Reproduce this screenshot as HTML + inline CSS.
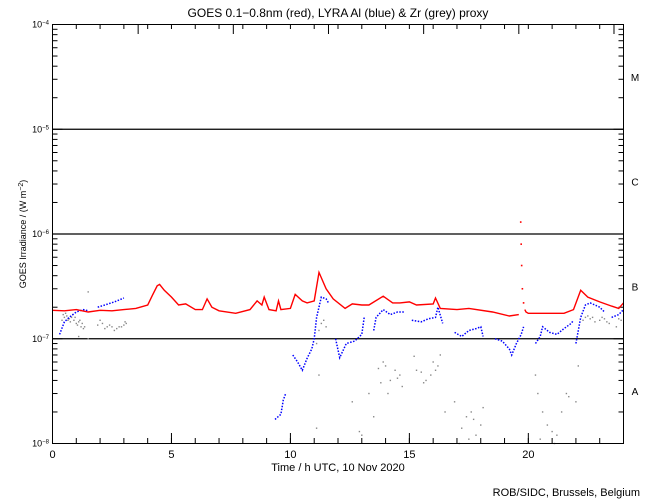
<!DOCTYPE html>
<html><head><meta charset="utf-8"><style>
body{margin:0;background:#fff}
svg{display:block;font-family:"Liberation Sans",sans-serif}
</style></head><body>
<svg id="c" width="650" height="500" xmlns="http://www.w3.org/2000/svg">
<rect width="650" height="500" fill="#fff"/>
<text x="338" y="17" font-size="12" text-anchor="middle">GOES 0.1−0.8nm (red), LYRA Al (blue) &amp; Zr (grey) proxy</text>
<text transform="translate(26,234) rotate(-90)" font-size="9" text-anchor="middle">GOES Irradiance / (W m<tspan baseline-shift="super" font-size="7">−2</tspan>)</text>
<text x="338" y="471" font-size="11" text-anchor="middle">Time / h UTC, 10 Nov 2020</text>
<text x="640" y="496" font-size="11" text-anchor="end">ROB/SIDC, Brussels, Belgium</text>
<g id="grid"></g><g id="axes"></g><g id="series"></g>
<rect x="52.5" y="24.5" width="571" height="419" fill="none" stroke="#000"/>
</svg>
<script>
const xTicks=[0,5,10,15,20];
const yDecades=[-8,-7,-6,-5,-4];
const classLabels=["A","B","C","M"];
const redHours=[0,0.5,1,1.5,2,2.5,3,3.5,4,4.2,4.4,4.5,4.7,5,5.3,5.6,6,6.3,6.5,6.7,7,7.7,8.3,8.6,8.8,8.9,9.1,9.4,9.5,9.6,10,10.2,10.5,10.7,11,11.2,11.5,11.8,12.3,12.6,13,13.3,13.9,14.3,14.6,15,15.3,16,16.1,16.3,17,17.5,18.5,19.2,19.6,null,19.68,null,19.7,null,19.72,null,19.75,null,19.8,null,19.85,19.9,20,21.5,21.9,22.2,22.5,23,23.5,23.8,24];
const redVals=[1.87,1.85,1.9,1.8,1.87,1.85,1.9,1.95,2.1,2.6,3.2,3.3,2.9,2.5,2.1,2.15,1.9,1.9,2.4,2.0,1.85,1.75,1.9,2.3,2.1,2.5,1.9,1.85,2.3,1.9,1.95,2.65,2.3,2.2,2.3,4.3,3.0,2.4,1.95,2.15,2.1,2.1,2.55,2.2,2.2,2.25,2.1,2.15,2.45,1.95,1.9,1.95,1.8,1.65,1.7,null,13,null,8,null,5,null,3,null,2.2,null,1.9,1.8,1.75,1.75,1.9,2.9,2.5,2.25,2.05,1.95,2.2];
const blueHours=[0.3,0.5,0.7,1,1.3,1.5,null,1.9,2.2,2.6,3,null,9.35,9.6,9.7,9.8,null,10.1,10.3,10.5,10.7,10.9,11,11.1,11.3,11.5,11.6,null,11.9,12.07,12.35,12.7,13,13.1,null,13.5,13.6,13.9,14.2,14.5,14.8,null,15.1,15.5,15.8,16.1,16.2,16.4,null,16.9,17.2,17.5,17.8,18,18.1,null,18.6,18.9,19.2,19.3,19.5,19.7,19.8,null,20.3,20.5,20.6,20.9,21.2,21.5,21.8,21.9,null,22,22.1,22.2,22.4,22.6,23,23.2,null,23.5,23.8,24];
const blueVals=[1.1,1.45,1.6,1.8,1.9,1.85,null,2.0,2.1,2.25,2.45,null,0.17,0.19,0.26,0.3,null,0.7,0.6,0.5,0.65,0.8,1.0,1.6,2.5,2.4,2.2,null,1.0,0.66,0.9,0.95,1.1,1.6,null,1.2,1.6,1.9,1.7,1.8,1.8,null,1.5,1.45,1.55,1.6,2.0,1.4,null,1.15,1.05,1.2,1.25,1.3,1.05,null,1.0,0.95,0.8,0.7,0.9,1.1,1.3,null,0.9,1.05,1.3,1.15,1.1,1.25,1.4,1.5,null,0.9,1.2,1.6,2.1,2.2,2.0,1.8,null,1.6,1.7,1.9];
const greyHours=[0.4,0.5,0.6,0.7,0.8,0.9,1,1.1,1.2,1.3,1.5,1.9,2.1,2.3,2.5,2.7,2.9,3,3.1,1.5,1.1,0.45,0.55,0.65,0.75,0.85,0.95,1.05,1.15,1.25,1.35,2.0,2.2,2.4,2.6,2.8,3.05,11.1,11.2,11.3,11.4,11.5,11.1,11.2,13.5,13.7,13.9,14.0,14.2,14.4,14.6,14.7,13.3,13.0,12.9,15.3,15.5,15.7,15.9,16.1,16.2,16.0,15.2,16.5,16.9,17.2,17.4,17.6,17.8,18.0,17.1,17.5,17.7,18.1,20.3,20.4,20.6,20.8,21.0,21.2,21.4,21.6,20.5,21.1,21.7,22.0,22.1,22.3,22.5,22.7,23.0,23.2,23.4,23.7,23.9,13.8,14.1,14.5,12.6,15.6,16.3,22.4,22.6,22.8,23.1,23.3,23.8];
const greyVals=[1.5,1.6,1.65,1.55,1.6,1.5,1.4,1.45,1.3,1.25,2.8,1.35,1.4,1.3,1.3,1.25,1.3,1.35,1.4,1.0,1.05,1.7,1.75,1.5,1.45,1.7,1.6,1.35,1.5,1.4,1.3,1.5,1.25,1.35,1.2,1.3,1.45,0.9,1.2,1.4,1.5,1.3,0.14,0.45,0.18,0.52,0.6,0.55,0.4,0.5,0.45,0.35,0.3,0.12,0.13,0.5,0.48,0.4,0.45,0.5,0.55,0.6,0.68,0.2,0.25,0.14,0.18,0.2,0.12,0.15,0.1,0.11,0.17,0.22,0.45,0.3,0.2,0.15,0.13,0.12,0.2,0.3,0.11,0.1,0.28,0.25,0.55,1.5,1.65,1.6,1.5,1.55,1.4,1.3,1.5,0.38,0.3,0.42,0.25,0.38,0.7,1.6,1.55,1.45,1.6,1.45,1.55];
const X0=52.5,X1=623.5,Y4=24.5,YD=104.75;
const sx=h=>X0+(X1-X0)*h/24;
const sy=v=>Y4+(-4-Math.log10(v))*YD;
const NS="http://www.w3.org/2000/svg";
function mk(t,a,p){const e=document.createElementNS(NS,t);for(const k in a)e.setAttribute(k,a[k]);p.appendChild(e);return e;}
const grid=document.getElementById('grid'),axes=document.getElementById('axes'),ser=document.getElementById('series');
[-7,-6,-5].forEach(d=>{const l=mk('line',{x1:X0,x2:X1,y1:sy(Math.pow(10,d)),y2:sy(Math.pow(10,d)),stroke:'#000','stroke-width':1.3},grid);

});
yDecades.forEach(d=>{const y=sy(Math.pow(10,d));
const t=mk('text',{x:49,y:y+3,'font-size':9,'text-anchor':'end'},axes);t.textContent='10';


const s=mk('tspan',{'baseline-shift':'super','font-size':6},t);s.textContent='−'+(-d);
mk('line',{x1:X0,x2:X0+10,y1:y,y2:y,stroke:'#000'},axes);mk('line',{x1:X1,x2:X1-10,y1:y,y2:y,stroke:'#000'},axes);
if(d<-4)for(let m=2;m<10;m++){const yy=sy(m*Math.pow(10,d));mk('line',{x1:X0,x2:X0+5,y1:yy,y2:yy,stroke:'#000'},axes);mk('line',{x1:X1,x2:X1-5,y1:yy,y2:yy,stroke:'#000'},axes);}});
classLabels.forEach((c,i)=>{const t=mk('text',{x:635,y:sy(Math.pow(10,-7.5+i))+4,'font-size':10,'text-anchor':'middle'},axes);t.textContent=c;

});
for(let h=1;h<24;h++){mk('line',{x1:sx(h),x2:sx(h),y1:443.5,y2:438,stroke:'#000'},axes);mk('line',{x1:sx(h),x2:sx(h),y1:24.5,y2:29,stroke:'#000'},axes);}
for(let h=3.6;h<24;h+=4)mk('line',{x1:sx(h),x2:sx(h),y1:24.5,y2:34,stroke:'#000'},axes);
xTicks.forEach(h=>{mk('line',{x1:sx(h),x2:sx(h),y1:443.5,y2:433,stroke:'#000'},axes);
const t=mk('text',{x:sx(h),y:458,'font-size':11,'text-anchor':'middle'},axes);t.textContent=h;

});
function segs(H,V,scale){const out=[];let cur=[];H.forEach((h,i)=>{if(h===null){if(cur.length)out.push(cur);cur=[];}else cur.push([sx(h),sy(V[i]*scale)]);});if(cur.length)out.push(cur);return out;}
greyHours.forEach((h,i)=>{const r=mk('rect',{x:sx(h)-0.7,y:sy(greyVals[i]*1e-7)-0.7,width:1.4,height:1.4,fill:'#888'},ser);

});
function drawSeries(H,V,color,w,dash,name){
segs(H,V,1e-7).forEach(s=>{
if(s.length===1){const r=mk('rect',{x:s[0][0]-0.8,y:s[0][1]-0.8,width:1.6,height:1.6,fill:color},ser);

return;}
const a={points:s.map(p=>p[0].toFixed(1)+','+p[1].toFixed(1)).join(' '),fill:'none',stroke:color,'stroke-width':w};
if(dash)a['stroke-dasharray']=dash;
const p=mk('polyline',a,ser);

});}
drawSeries(blueHours,blueVals,'#00f',1.5,'1.5 1.5','lyra-al-series');
drawSeries(redHours,redVals,'#f00',1.4,null,'goes-xray-series');
</script>
</body></html>
